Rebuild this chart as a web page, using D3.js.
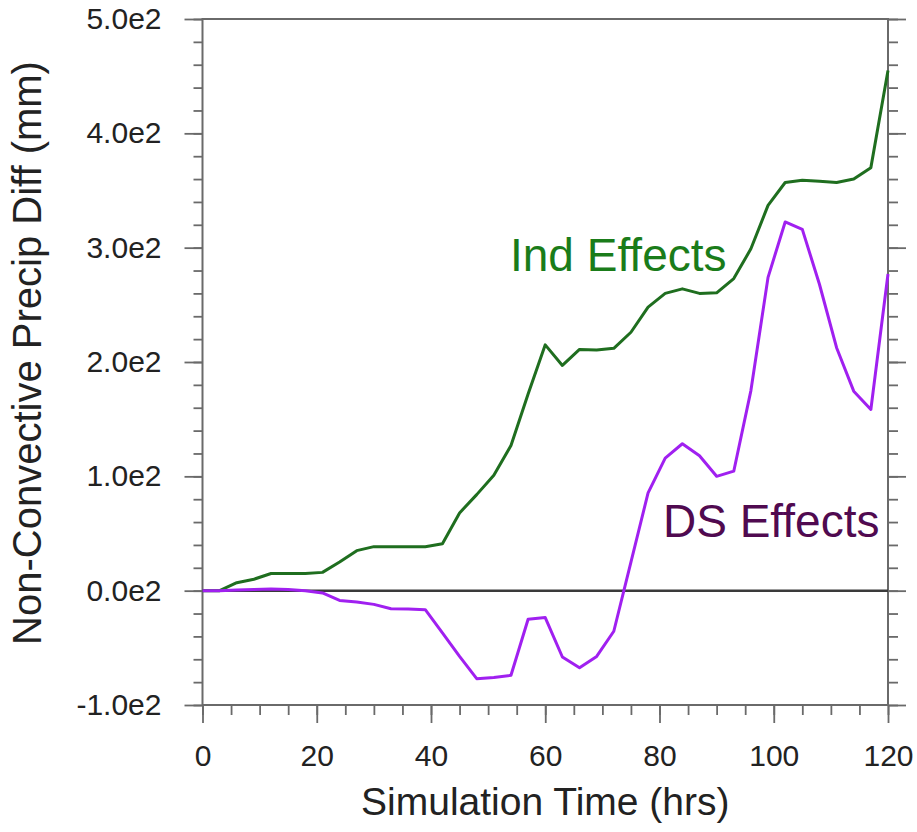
<!DOCTYPE html>
<html>
<head>
<meta charset="utf-8">
<script src="https://cdn.jsdelivr.net/npm/d3@7"></script>
<style>
  body { margin: 0; background: #fff; }
  svg { display: block; font-family: "Liberation Sans", Arial, Helvetica, sans-serif; }
</style>
</head>
<body>
<svg width="917" height="832"></svg>
<script>
// ---- Dados
const hours = [0, 3, 6, 9, 12, 15, 18, 21, 24, 27, 30, 33, 36, 39, 42, 45, 48, 51, 54, 57, 60,
               63, 66, 69, 72, 75, 78, 81, 84, 87, 90, 93, 96, 99, 102, 105, 108, 111, 114, 117, 120];
const indEffects = [0, 0, 7, 10, 15, 15, 15, 16, 25, 35, 38.5, 38.5, 38.5, 38.5, 41, 68, 84, 101, 127, 172, 215,
                    197, 211, 210.5, 212, 226, 248, 260, 264, 260, 260.5, 273, 299, 337, 357, 359, 358, 357, 360, 370, 455];
const dsEffects = [0, 0, 0.5, 1, 1.5, 1, 0, -2, -8.5, -10, -12, -15.8, -16, -16.6, -37, -57.5, -77, -76, -74, -25, -23.5,
                   -58, -67.5, -57.5, -35.5, 25, 85.5, 116, 128.5, 118, 100, 104.5, 175, 274, 322.5, 316, 268, 212.5, 174.5, 158.5, 277];
const xTicks = [0, 20, 40, 60, 80, 100, 120];
const yTicks = [-100, 0, 100, 200, 300, 400, 500];
const yTickLabels = ['-1.0e2', '0.0e2', '1.0e2', '2.0e2', '3.0e2', '4.0e2', '5.0e2'];

const margens = { left: 202.5, right: 29, top: 19, bottom: 127 };
const svg = d3.select('svg');
const width = 917, height = 832;
const x0 = margens.left, x1 = width - margens.right;
const y0 = height - margens.bottom, y1 = margens.top;

// ---- Escalas
const mapX = d3.scaleLinear().domain([0, 120]).range([x0, x1]);
const mapY = d3.scaleLinear().domain([-100, 500]).range([y0, y1]);

const axisColor = '#6a6a6a';

// ---- Eixos (ticks para fora, estilo NCL)
const minorY = d3.range(-100, 501, 20);
const minorX = d3.range(0, 121, 5);

svg.append('g').attr('transform', `translate(${x0},0)`)
  .call(d3.axisLeft(mapY).tickValues(minorY).tickSize(9).tickFormat(''));
svg.append('g').attr('transform', `translate(${x0},0)`)
  .call(d3.axisLeft(mapY).tickValues(yTicks).tickSize(18).tickPadding(23)
    .tickFormat((d, i) => yTickLabels[i]));

svg.append('g').attr('transform', `translate(${x1},0)`)
  .call(d3.axisRight(mapY).tickValues(minorY).tickSize(10).tickFormat(''));
svg.append('g').attr('transform', `translate(${x1},0)`)
  .call(d3.axisRight(mapY).tickValues(yTicks).tickSize(18).tickFormat(''));

svg.append('g').attr('transform', `translate(0,${y0})`)
  .call(d3.axisBottom(mapX).tickValues(minorX).tickSize(10).tickFormat(''));
svg.append('g').attr('transform', `translate(0,${y0})`)
  .call(d3.axisBottom(mapX).tickValues(xTicks).tickSize(18).tickPadding(22));

svg.selectAll('.domain').remove();
svg.selectAll('.tick line').attr('stroke', axisColor).attr('stroke-width', 1.8);
svg.selectAll('.tick text')
  .attr('fill', '#222')
  .style('font-size', '30px');

// ---- Moldura
svg.append('rect')
  .attr('x', x0).attr('y', y1)
  .attr('width', x1 - x0).attr('height', y0 - y1)
  .attr('fill', 'none')
  .attr('stroke', axisColor)
  .attr('stroke-width', 2);

// ---- Linha do zero
svg.append('line')
  .attr('x1', x0).attr('x2', x1)
  .attr('y1', mapY(0)).attr('y2', mapY(0))
  .attr('stroke', '#3a3a3a')
  .attr('stroke-width', 2.5);

// ---- Séries
const line = d3.line()
  .x((d, i) => mapX(hours[i]))
  .y(d => mapY(d));

svg.append('path')
  .datum(indEffects)
  .attr('d', line)
  .attr('fill', 'none')
  .attr('stroke', '#1f6e1f')
  .attr('stroke-width', 3)
  .attr('stroke-linejoin', 'round');

svg.append('path')
  .datum(dsEffects)
  .attr('d', line)
  .attr('fill', 'none')
  .attr('stroke', '#a020f0')
  .attr('stroke-width', 3)
  .attr('stroke-linejoin', 'round');

// ---- Rótulos das séries
svg.append('text')
  .attr('x', 510).attr('y', 271)
  .attr('fill', '#1a7c1a')
  .style('font-size', '46px')
  .text('Ind Effects');

svg.append('text')
  .attr('x', 663).attr('y', 537)
  .attr('fill', '#500a50')
  .style('font-size', '46px')
  .text('DS Effects');

// ---- Títulos dos eixos
svg.append('text')
  .attr('x', (x0 + x1) / 2)
  .attr('y', 815)
  .attr('text-anchor', 'middle')
  .attr('fill', '#222')
  .style('font-size', '39px')
  .text('Simulation Time (hrs)');

svg.append('text')
  .attr('transform', 'rotate(-90)')
  .attr('x', -353)
  .attr('y', 41)
  .attr('text-anchor', 'middle')
  .attr('fill', '#222')
  .style('font-size', '40px')
  .text('Non-Convective Precip Diff (mm)');
</script>
</body>
</html>
